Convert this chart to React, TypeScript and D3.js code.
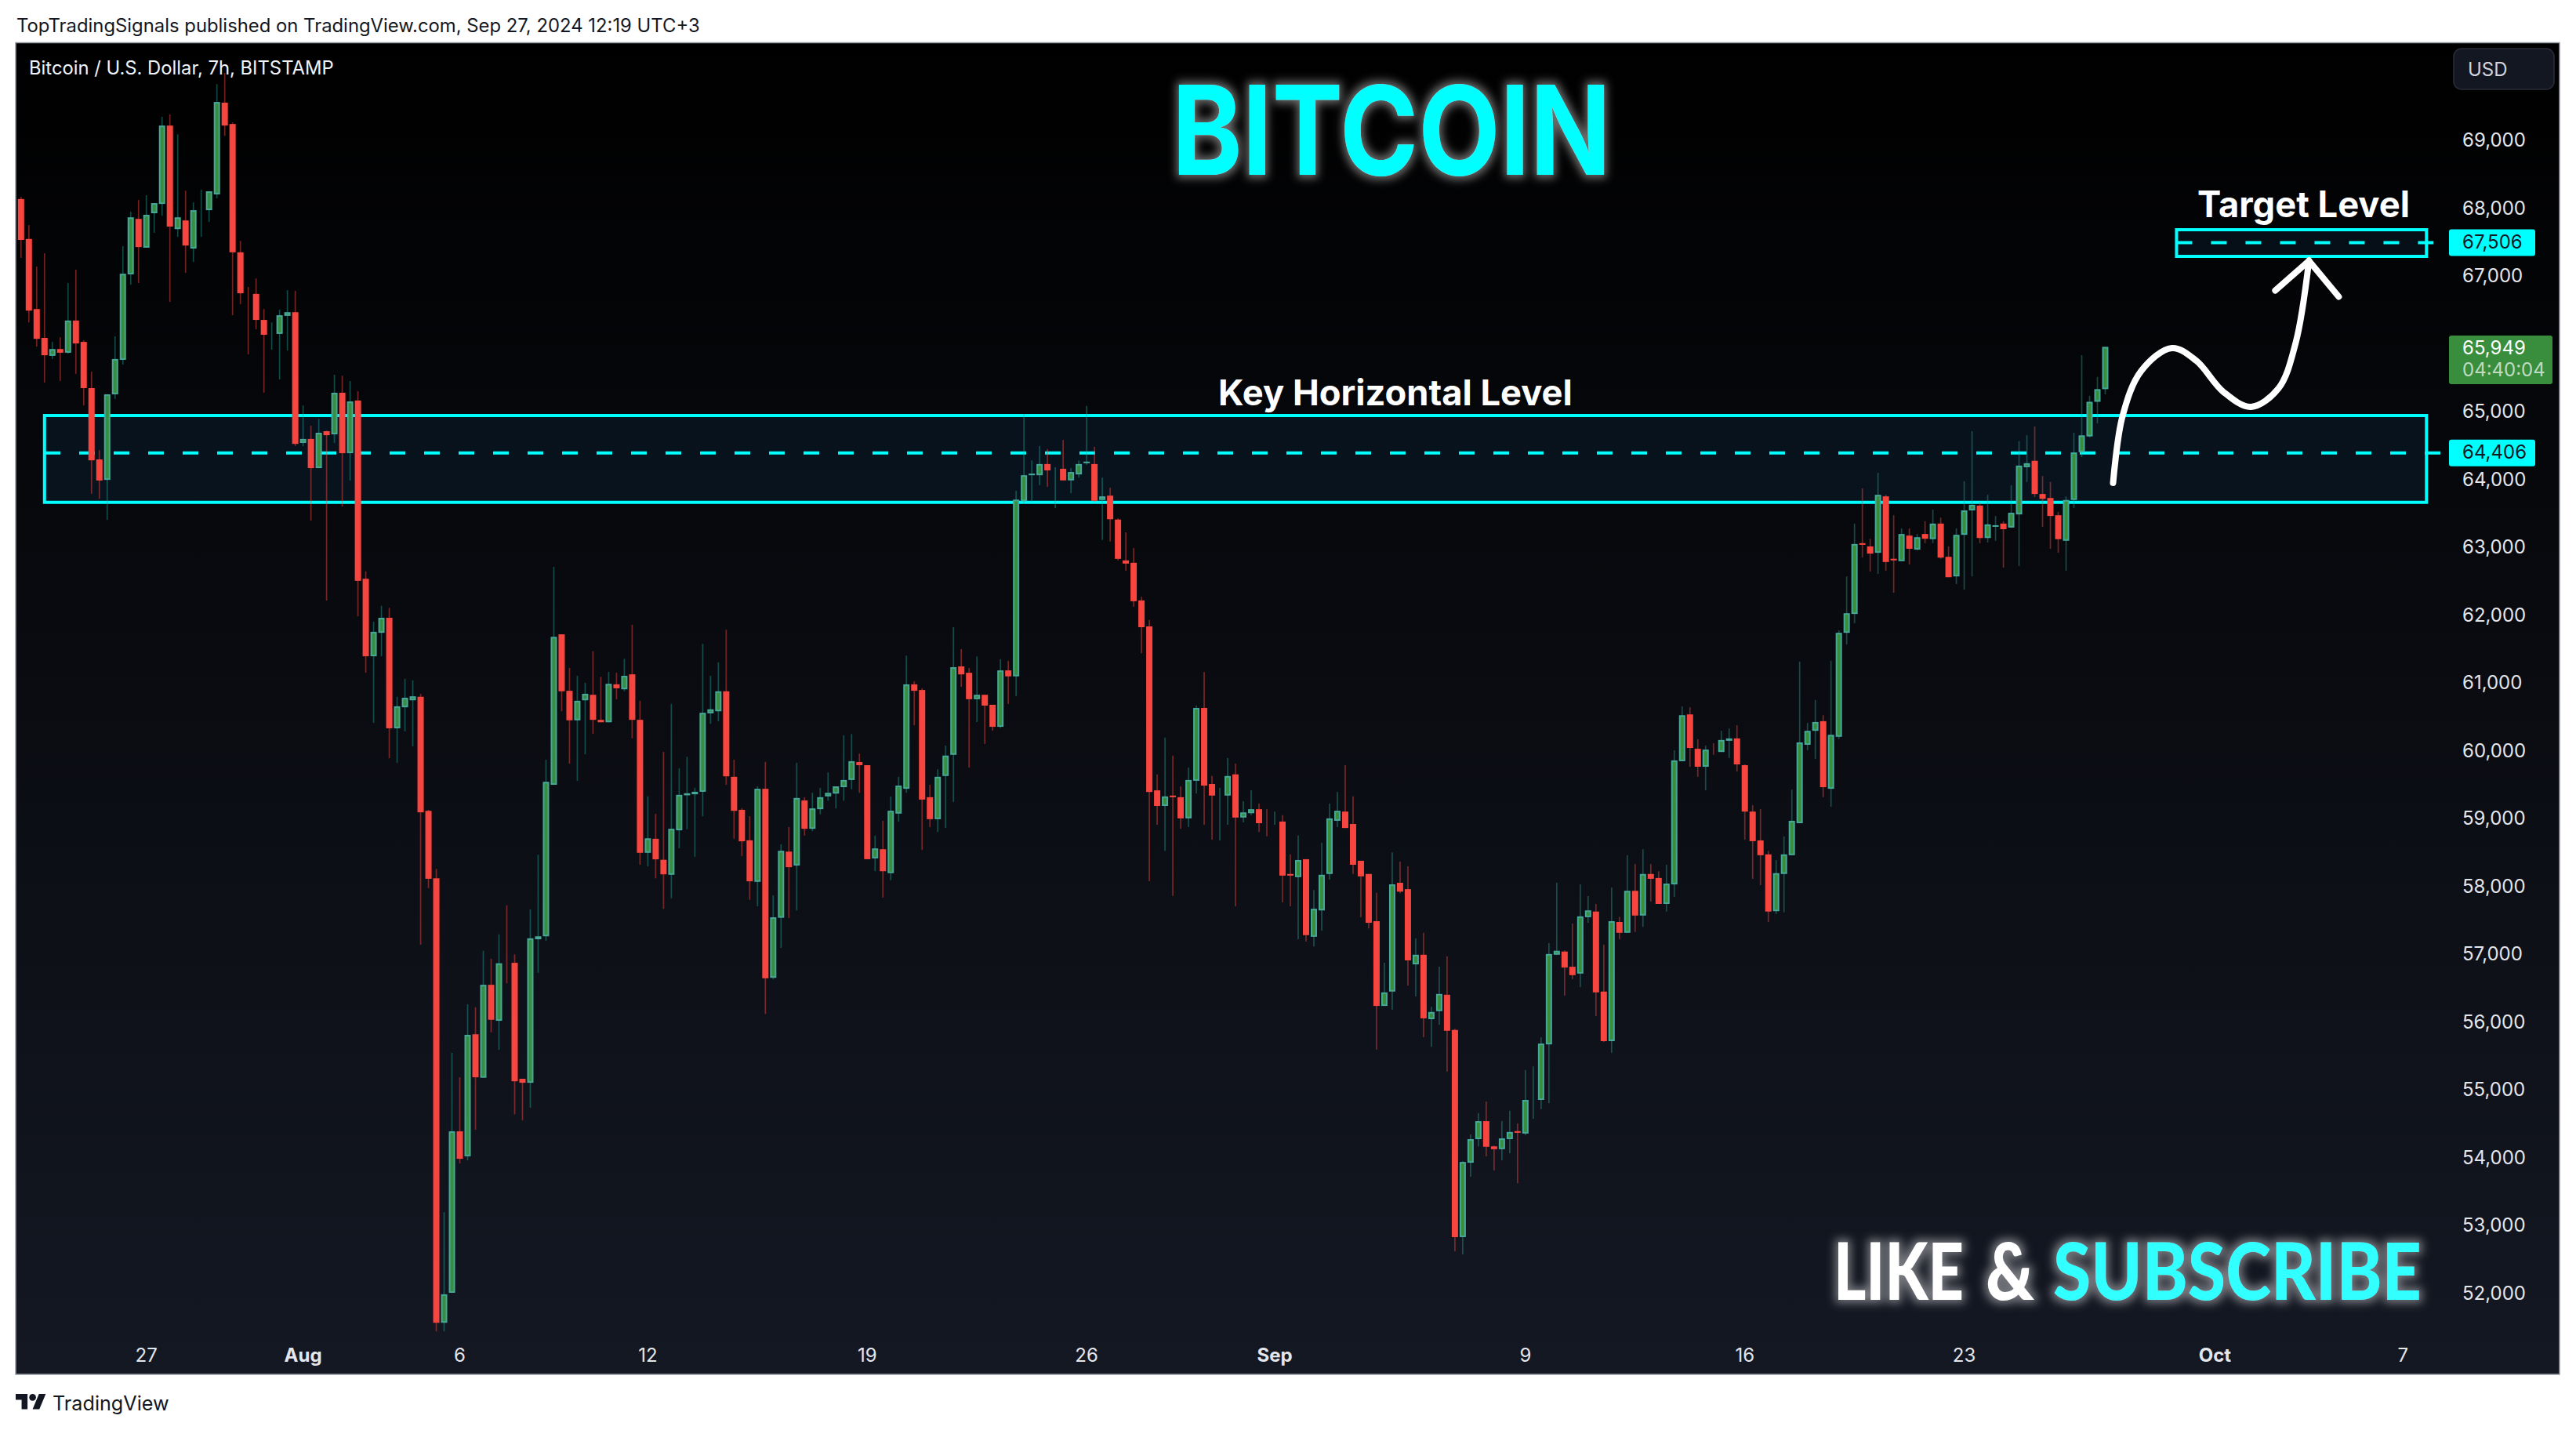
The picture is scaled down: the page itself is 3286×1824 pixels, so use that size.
import { useEffect, useRef } from "react"
import * as d3 from "d3"

const WIDTH = 3286
const HEIGHT = 1824

// 7h BTCUSD candles
const opens = [
  68129,67540,66506,66081,65816,65917,65862,66337,66022,65341,
  64289,63987,65249,65757,67018,67836,67411,67919,68056,69212,
  67685,67813,67398,67964,67964,68197,69550,69235,67343,66753,
  66730,66346,66145,66140,66406,66460,64532,64591,64161,64705,
  64659,65272,64381,65158,62529,61386,61732,61954,60324,60634,
  60737,60789,59107,58112,51558,52000,54381,54013,55812,55171,
  56542,56011,56866,56866,55156,55097,57213,57257,59491,61710,
  60877,60442,60737,60818,60449,60413,60973,60899,61120,60449,
  58488,58695,58385,58164,58820,59336,59351,59388,60545,60575,
  60870,59609,59122,58673,58060,59432,56645,57530,58506,58300,
  59261,58842,59131,59320,59361,59456,59562,59827,59780,58406,
  58541,58188,59066,59432,60972,60889,59308,58984,59621,59933,
  61237,61143,60753,60818,60671,60346,61178,61090,63673,64056,
  64056,64221,64139,64151,63980,64068,64233,64221,63691,63755,
  63402,62800,62765,62210,61827,59409,59179,59332,59308,58996,
  59550,60624,59503,59332,59332,59645,59008,59072,59131,58937,
  58937,58949,58176,58129,58394,57250,57639,58176,58960,59096,
  58913,58371,58176,57480,56230,56442,58046,57952,56843,56985,
  56035,56153,56395,55876,52821,53918,54266,54531,54159,54118,
  54266,54384,54348,54844,54844,55663,56985,57032,56808,56707,
  57539,57622,56442,55711,57468,57309,57928,57563,58176,58117,
  57734,58022,59839,60529,60022,59757,60022,59975,60140,60175,
  59780,59096,58671,58465,57627,58176,58453,58925,60081,60287,
  60429,59432,60199,61732,62010,63054,63006,62912,63744,62824,
  62788,63166,62959,63189,63113,63343,62853,62564,63177,63537,
  63608,63130,63295,63343,63284,63478,64174,64269,63779,63720,
  63466,63089,63691,64396,64628,65139,65325,
]
const closes = [
  67526,66483,66067,65825,65917,65862,66337,65999,65341,64276,
  63978,65249,65770,67027,67859,67420,67896,68069,69212,67722,
  67859,67443,67964,67987,68243,69560,69212,67343,66739,66730,
  66346,66127,66163,66415,66460,64518,64591,64161,64682,64646,
  65272,64381,65144,62499,61386,61747,61954,60324,60649,60774,
  60796,59085,58105,51558,51978,54381,53976,55804,55178,56542,
  56026,56859,56844,55119,55097,57227,57257,59535,61673,60870,
  60442,60730,60833,60449,60413,60980,60914,61098,60449,58488,
  58702,58392,58171,58842,59343,59366,59388,60553,60604,60870,
  59616,59107,58658,58068,59432,56638,57537,58518,58276,59297,
  58842,59143,59308,59373,59468,59562,59839,59780,58394,58553,
  58217,59108,59479,60972,60877,59273,58984,59609,59922,61225,
  61119,60753,60818,60659,60346,61178,61090,63696,64056,64080,
  64221,64127,64162,63980,64103,64221,64257,63679,63744,63407,
  62823,62753,62198,61815,59385,59179,59320,59308,58996,59562,
  60624,59479,59332,59355,59621,59008,59084,59131,58925,58919,
  58960,58152,58152,58382,57274,57663,58164,58996,59108,58854,
  58312,58141,57456,56230,56430,58023,57916,56902,56985,56047,
  56141,56407,55864,52821,53929,54266,54531,54153,54118,54277,
  54372,54360,54844,54867,55675,56996,57044,56796,56684,57551,
  57639,56430,55711,57480,57309,57928,57563,58176,58105,57734,
  58034,59851,60517,60034,59757,60010,60004,60152,60175,59792,
  59096,58660,58453,57622,58188,58465,58960,60116,60287,60417,
  59456,60228,61732,62021,63042,63030,62900,63767,62776,62800,
  63189,62971,63142,63119,63343,62841,62552,63177,63537,63620,
  63130,63331,63319,63260,63502,64198,64233,63779,63708,63455,
  63113,63691,64392,64644,65139,65325,65949,
]
const highs = [
  68161,67745,67133,67329,66022,66090,66890,67087,66045,65583,
  64426,65249,66104,67434,67941,68115,68184,68069,69340,69377,
  69084,68252,68079,68266,68243,69825,69989,69258,67512,66831,
  66959,66506,66310,66497,66785,66776,65085,64788,64888,64714,
  65537,65523,65446,65295,62639,61895,62130,62101,60789,61054,
  61032,60833,59122,58252,53187,55539,55178,56254,56210,57043,
  56925,57286,57714,56991,55156,57655,58459,59860,62706,61710,
  61216,61098,60995,61460,61084,61157,61143,61349,61850,60730,
  59321,59063,59977,60685,59734,59904,59447,61570,61098,61297,
  61777,59860,59144,59027,59469,59830,57861,58614,58866,59816,
  59308,59373,59444,59674,59468,60223,60240,59951,59780,58742,
  58960,59320,59609,61396,61019,60913,59491,59721,60069,61815,
  61491,61213,61384,60818,60671,61343,61319,63826,64959,64274,
  64487,64440,64174,64575,64162,64274,65077,64475,64021,63873,
  63419,63213,62983,62263,61921,59645,60187,59922,59468,59745,
  60659,61154,59621,59444,59886,59804,59249,59409,59214,59131,
  59096,59043,58465,58742,58394,57940,58636,59214,59385,59780,
  59320,58371,58176,57899,56867,58494,58359,58288,57226,57309,
  56218,56808,56961,55893,53941,54336,54649,54820,54171,54531,
  54684,54496,55286,55339,55770,57156,58046,57049,57445,58023,
  57851,57734,57132,57975,57545,58453,58323,58541,58323,58217,
  58312,60000,60647,60635,60164,60069,60104,60287,60323,60370,
  59792,59190,59131,58518,58382,58730,59420,61308,60405,60742,
  60518,61320,61768,62564,63343,63862,63118,64092,63767,63466,
  63272,63272,63189,63378,63549,63431,63006,63272,63968,64705,
  63655,63767,63455,63378,63909,64558,64646,64776,64044,63956,
  63514,63744,64681,65826,65227,65506,65949,
]
const lows = [
  67261,66310,65953,65423,65770,65446,65848,65551,65085,63782,
  63709,63398,65180,65688,66867,66890,67411,67631,67882,66611,
  67571,67041,67201,67571,67791,68138,69061,66415,66579,65839,
  66209,65272,65907,65468,65894,64486,64486,63389,64161,62208,
  64532,63594,63978,61976,61143,60405,61386,59882,59815,60280,
  60059,57132,57965,51432,51432,52000,53910,53954,54403,55171,
  55841,55583,56564,54632,54544,54728,56719,57191,59491,60575,
  59801,59550,59941,60243,60413,60413,60752,60870,60177,58311,
  58289,58112,57662,57817,58555,58835,58429,59027,60390,60427,
  59491,58695,58437,57795,57699,56114,56623,57087,57527,57639,
  58742,58807,59055,59255,59143,59255,59426,59373,58394,58217,
  57828,58082,58948,59373,60370,58530,58866,58795,58854,59238,
  60936,59745,60417,60093,60287,60329,60683,60801,63632,63661,
  63909,63885,63573,63980,63791,64021,64210,63661,63101,63077,
  62800,62647,62116,61432,58070,58901,58518,57852,58842,58866,
  59361,58901,58683,58671,58901,57698,58937,59043,58795,58730,
  58901,57757,57698,57215,57179,57108,57338,58093,58866,58854,
  58176,57539,57374,55587,56230,56177,57893,56530,56371,55770,
  55628,55952,55262,52614,52567,53711,54159,54012,53806,53953,
  54059,53617,54325,54566,54708,54796,56985,56383,56625,56507,
  57456,56082,55699,55539,57215,57309,57321,57397,57769,57734,
  57622,57840,59839,59757,59609,59409,59933,59975,59886,59686,
  58683,58105,58011,57468,57586,57610,58453,58925,60000,59874,
  59308,59167,60164,61561,61874,62841,62635,62599,62647,62322,
  62788,62741,62947,63054,63054,62824,62552,62452,62369,62564,
  63054,63065,63089,62694,63284,62717,63956,63732,63295,62971,
  62912,62647,63573,64324,64613,64819,65247,
]

const priceTicks = [69000, 68000, 67000, 65000, 64000, 63000, 62000, 61000, 60000, 59000, 58000, 57000, 56000, 55000, 54000, 53000, 52000]

// bar index of each date label, months are bold
const dateLabels = ["27", "Aug", "6", "12", "19", "26", "Sep", "9", "16", "23", "Oct", "7"]
const dateIndexes = [16, 36, 56, 80, 108, 136, 160, 192, 220, 248, 280, 304]
const monthLabels = ["Aug", "Sep", "Oct"]

const keyLevel = 64406
const keyZone = [64936, 63656]
const targetLevel = 67506
const targetZone = [67676, 67283]
const lastPrice = 65949
const countdown = "04:40:04"

// hand drawn projection, in [bar index, price]
const projection: [number, number][] = [
  [267.0, 63942], [268.2, 64925], [270.6, 65595], [274.5, 65931], [277.6, 65746],
  [281.1, 65283], [284.6, 65064], [288.1, 65335], [290.3, 66006], [292.0, 67218],
]
const arrowHead: [number, number][] = [[287.7, 66780], [292.0, 67218], [295.8, 66688]]

const UI_FONT = "Inter, 'Noto Sans', sans-serif"

// squeeze a text to a measured width by scaling, so its box stays honest
function fitText(node: SVGTextElement, left: number, baseline: number, span: number) {
  const natural = node.getComputedTextLength()
  node.setAttribute("transform", `translate(${left},${baseline}) scale(${span / natural},1)`)
}

export default function App() {
  const svgRef = useRef<SVGSVGElement>(null)

  useEffect(() => {
    if (!svgRef.current) return

    const frame = { left: 20, top: 54.5, right: 3265, bottom: 1753 }

    d3.select(svgRef.current).selectAll("*").remove()
    const svg = d3.select(svgRef.current).attr("width", WIDTH).attr("height", HEIGHT)

    const x = d3.scaleLinear().domain([0, 266]).range([26.8, 2685.5])
    const y = d3.scaleLinear().domain([52000, 69000]).range([1649, 178.5])
    // drawn levels sit a hair below the price scale
    const levelY = (p: number) => y(p) + 1.8

    const defs = svg.append("defs")

    const gradient = defs
      .append("linearGradient")
      .attr("id", "paneBg")
      .attr("x1", 0)
      .attr("y1", 0)
      .attr("x2", 0)
      .attr("y2", 1)
    gradient.append("stop").attr("offset", "0%").attr("stop-color", "#000000")
    gradient.append("stop").attr("offset", "100%").attr("stop-color", "#141823")

    defs
      .append("clipPath")
      .attr("id", "pane")
      .append("rect")
      .attr("x", frame.left)
      .attr("y", frame.top)
      .attr("width", frame.right - frame.left)
      .attr("height", frame.bottom - frame.top)

    // Glow round the big captions
    const glow = defs
      .append("filter")
      .attr("id", "glow")
      .attr("x", "-10%")
      .attr("y", "-40%")
      .attr("width", "120%")
      .attr("height", "180%")
    glow.append("feMorphology").attr("in", "SourceAlpha").attr("operator", "dilate").attr("radius", 4).attr("result", "fat")
    glow.append("feGaussianBlur").attr("in", "fat").attr("stdDeviation", 6).attr("result", "soft")
    glow.append("feFlood").attr("flood-color", "#ffffff").attr("flood-opacity", 0.42).attr("result", "tint")
    glow.append("feComposite").attr("in", "tint").attr("in2", "soft").attr("operator", "in").attr("result", "halo")
    const merge = glow.append("feMerge")
    merge.append("feMergeNode").attr("in", "halo")
    merge.append("feMergeNode").attr("in", "SourceGraphic")

    // Page and pane
    svg.append("rect").attr("width", WIDTH).attr("height", HEIGHT).attr("fill", "#ffffff")
    svg
      .append("rect")
      .attr("x", frame.left)
      .attr("y", frame.top)
      .attr("width", frame.right - frame.left)
      .attr("height", frame.bottom - frame.top)
      .attr("fill", "url(#paneBg)")
      .attr("stroke", "#9598a1")
      .attr("stroke-width", 1.5)

    svg
      .append("text")
      .attr("x", 21)
      .attr("y", 32)
      .attr("dominant-baseline", "central")
      .attr("font-family", UI_FONT)
      .attr("font-size", 23.85)
      .attr("fill", "#131722")
      .text("TopTradingSignals published on TradingView.com, Sep 27, 2024 12:19 UTC+3")

    const pane = svg.append("g").attr("clip-path", "url(#pane)")

    // Zones with their dashed levels
    const zones = [
      { from: 3.0, to: 307.0, band: keyZone, level: keyLevel, dashFrom: 3.02, dashTo: 308.8 },
      { from: 275.1, to: 307.0, band: targetZone, level: targetLevel, dashFrom: 275.1, dashTo: 307.9 },
    ]
    zones.forEach((z) => {
      pane
        .append("rect")
        .attr("x", x(z.from))
        .attr("y", y(z.band[0]))
        .attr("width", x(z.to) - x(z.from))
        .attr("height", y(z.band[1]) - y(z.band[0]))
        .attr("fill", "#2196f3")
        .attr("fill-opacity", 0.08)
        .attr("stroke", "#00ffff")
        .attr("stroke-width", 4)
      pane
        .append("line")
        .attr("x1", x(z.dashFrom))
        .attr("x2", x(z.dashTo))
        .attr("y1", levelY(z.level))
        .attr("y2", levelY(z.level))
        .attr("stroke", "#00ffff")
        .attr("stroke-width", 4)
        .attr("stroke-dasharray", "20 24")
    })

    // Candles
    const bars = d3.range(opens.length)
    const isUp = (i: number) => closes[i] >= opens[i]

    pane
      .selectAll(".wick")
      .data(bars)
      .enter()
      .append("line")
      .attr("class", "wick")
      .attr("x1", (i) => x(i))
      .attr("x2", (i) => x(i))
      .attr("y1", (i) => y(highs[i]))
      .attr("y2", (i) => y(lows[i]))
      .attr("stroke", (i) => (isUp(i) ? "#26a69a" : "#f7453f"))
      .attr("stroke-opacity", (i) => (isUp(i) ? 0.42 : 0.46))
      .attr("stroke-width", 1.7)

    pane
      .selectAll(".body")
      .data(bars)
      .enter()
      .append("rect")
      .attr("class", "body")
      .attr("x", (i) => x(i) - 3)
      .attr("width", 6)
      .attr("y", (i) => y(Math.max(opens[i], closes[i])) + 1)
      .attr("height", (i) => Math.max(0, Math.abs(y(opens[i]) - y(closes[i])) - 2))
      .attr("fill", (i) => (isUp(i) ? "#388e3c" : "#f7453f"))
      .attr("stroke", (i) => (isUp(i) ? "#45a898" : "#f7453f"))
      .attr("stroke-width", 2)

    // Projection arrow
    const arrowLine = d3
      .line<[number, number]>()
      .x((d) => x(d[0]))
      .y((d) => y(d[1]))
    pane
      .append("path")
      .attr("d", arrowLine.curve(d3.curveCatmullRom.alpha(0.5))(projection))
      .attr("fill", "none")
      .attr("stroke", "#ffffff")
      .attr("stroke-width", 8)
      .attr("stroke-linecap", "round")
    pane
      .append("path")
      .attr("d", arrowLine.curve(d3.curveLinear)(arrowHead))
      .attr("fill", "none")
      .attr("stroke", "#ffffff")
      .attr("stroke-width", 8)
      .attr("stroke-linecap", "round")
      .attr("stroke-linejoin", "miter")

    // Price scale
    pane
      .selectAll(".price-tick")
      .data(priceTicks)
      .enter()
      .append("text")
      .attr("class", "price-tick")
      .attr("x", 3141)
      .attr("y", (d) => y(d))
      .attr("dominant-baseline", "central")
      .attr("font-family", UI_FONT)
      .attr("font-size", 24)
      .attr("fill", "#e4e6ec")
      .text((d) => d3.format(",")(d))

    // Date scale
    pane
      .selectAll(".date-tick")
      .data(dateLabels)
      .enter()
      .append("text")
      .attr("class", "date-tick")
      .attr("x", (_, i) => x(dateIndexes[i]))
      .attr("y", 1728)
      .attr("text-anchor", "middle")
      .attr("dominant-baseline", "central")
      .attr("font-family", UI_FONT)
      .attr("font-size", 24)
      .attr("font-weight", (d) => (monthLabels.includes(d) ? 700 : 400))
      .attr("fill", "#e4e6ec")
      .text((d) => d)

    pane
      .append("text")
      .attr("x", 37)
      .attr("y", 86)
      .attr("dominant-baseline", "central")
      .attr("font-family", UI_FONT)
      .attr("font-size", 23.8)
      .attr("fill", "#f0f3fa")
      .text("Bitcoin / U.S. Dollar, 7h, BITSTAMP")

    // USD button
    pane
      .append("rect")
      .attr("x", 3130)
      .attr("y", 62)
      .attr("width", 128)
      .attr("height", 52)
      .attr("rx", 10)
      .attr("fill", "#131722")
      .attr("stroke", "#2a2e39")
      .attr("stroke-width", 1.5)
    pane
      .append("text")
      .attr("x", 3148)
      .attr("y", 88)
      .attr("dominant-baseline", "central")
      .attr("font-family", UI_FONT)
      .attr("font-size", 24)
      .attr("fill", "#d1d4dc")
      .text("USD")

    // Level price tags
    ;[targetLevel, keyLevel].forEach((p) => {
      pane
        .append("rect")
        .attr("x", 3124)
        .attr("y", levelY(p) - 17)
        .attr("width", 110)
        .attr("height", 34)
        .attr("rx", 3)
        .attr("fill", "#00ffff")
      pane
        .append("text")
        .attr("x", 3141)
        .attr("y", levelY(p) - 1)
        .attr("dominant-baseline", "central")
        .attr("font-family", UI_FONT)
        .attr("font-size", 24)
        .attr("fill", "#131722")
        .text(d3.format(",")(p))
    })

    // Last price tag with bar countdown
    pane
      .append("rect")
      .attr("x", 3124)
      .attr("y", 428)
      .attr("width", 132)
      .attr("height", 62)
      .attr("rx", 3)
      .attr("fill", "#388e3c")
    pane
      .append("text")
      .attr("x", 3141)
      .attr("y", 443)
      .attr("dominant-baseline", "central")
      .attr("font-family", UI_FONT)
      .attr("font-size", 24)
      .attr("fill", "#ffffff")
      .text(d3.format(",")(lastPrice))
    pane
      .append("text")
      .attr("x", 3141)
      .attr("y", 471)
      .attr("dominant-baseline", "central")
      .attr("font-family", UI_FONT)
      .attr("font-size", 24)
      .attr("fill", "#ffffff")
      .attr("fill-opacity", 0.7)
      .text(countdown)

    // Captions, fitted to the widths in the picture
    const captions = [
      { text: "Key Horizontal Level", at: 1554, base: 516.7, span: 452, size: 45, color: "#ffffff" },
      { text: "Target Level", at: 2803, base: 277, span: 271, size: 46, color: "#ffffff" },
    ]
    captions.forEach((c) => {
      pane
        .append("text")
        .attr("font-family", UI_FONT)
        .attr("font-size", c.size)
        .attr("font-weight", 700)
        .attr("fill", c.color)
        .text(c.text)
        .each(function () {
          fitText(this as SVGTextElement, c.at, c.base, c.span)
        })
    })

    pane
      .append("text")
      .attr("font-family", UI_FONT)
      .attr("font-size", 158)
      .attr("font-weight", 700)
      .attr("fill", "#00ffff")
      .attr("filter", "url(#glow)")
      .text("BITCOIN")
      .each(function () {
        fitText(this as SVGTextElement, 1495, 222.7, 560)
      })

    const promo = pane
      .append("g")
      .attr("filter", "url(#glow)")
      .attr("font-family", "Lato, sans-serif")
      .attr("font-weight", 900)
      .attr("font-size", 101)
    ;[
      { text: "LIKE", at: 2339, span: 166, color: "#ffffff" },
      { text: "&", at: 2533, span: 62, color: "#ffffff" },
      { text: "SUBSCRIBE", at: 2619, span: 470, color: "#33ffff" },
    ].forEach((w) => {
      promo
        .append("text")
        .attr("fill", w.color)
        .text(w.text)
        .each(function () {
          fitText(this as SVGTextElement, w.at, 1658, w.span)
        })
    })

    // Footer logo
    const logo = svg.append("g").attr("transform", "translate(20,1770.5) scale(1.08)").attr("fill", "#131722")
    logo.append("path").attr("d", "M14 25H7V14H0V7h14v18zM28 25h-8l7.5-18h8L28 25z")
    logo.append("circle").attr("cx", 20).attr("cy", 11).attr("r", 4)
    svg
      .append("text")
      .attr("x", 67)
      .attr("y", 1790)
      .attr("dominant-baseline", "central")
      .attr("font-family", UI_FONT)
      .attr("font-size", 25.2)
      .attr("fill", "#131722")
      .text("TradingView")
  }, [])

  return (
    <div style={{ position: "absolute", left: 0, top: 0 }}>
      <svg ref={svgRef} style={{ display: "block" }} />
    </div>
  )
}
